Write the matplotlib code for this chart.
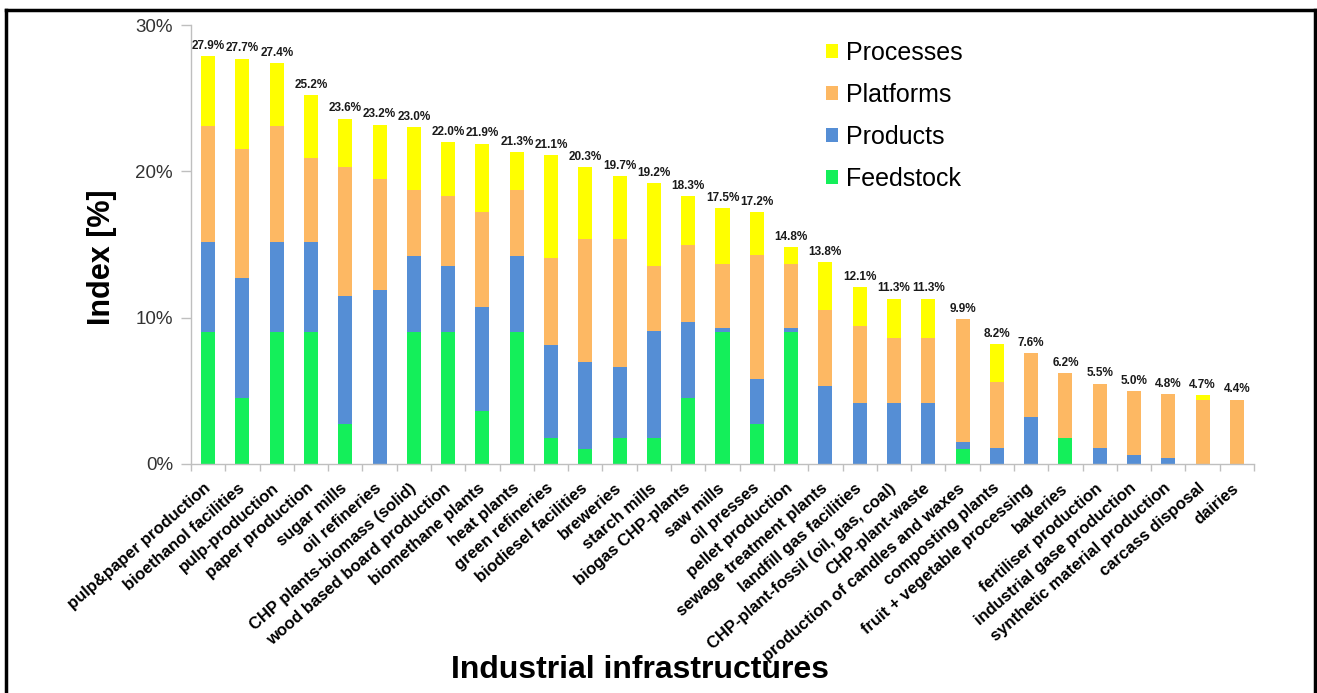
import matplotlib
matplotlib.use("Agg")
import matplotlib.pyplot as plt
from matplotlib.patches import Patch
from matplotlib.lines import Line2D
from matplotlib.ticker import PercentFormatter, FixedLocator
import numpy as np

plt.rcParams['font.family'] = ['Liberation Sans', 'DejaVu Sans']

categories = [
    "pulp&paper production", "bioethanol facilities", "pulp-production", "paper production",
    "sugar mills", "oil refineries", "CHP plants-biomass (solid)", "wood based board production",
    "biomethane plants", "heat plants", "green refineries", "biodiesel facilities", "breweries",
    "starch mills", "biogas CHP-plants", "saw mills", "oil presses", "pellet production",
    "sewage treatment plants", "landfill gas facilities", "CHP-plant-fossil (oil, gas, coal)",
    "CHP-plant-waste", "production of candles and waxes", "composting plants",
    "fruit + vegetable processing", "bakeries", "fertiliser production",
    "industrial gase production", "synthetic material production", "carcass disposal", "dairies",
]
feedstock = [9.0, 4.5, 9.0, 9.0, 2.7, 0.0, 9.0, 9.0, 3.6, 9.0, 1.8, 1.0, 1.8, 1.8, 4.5, 9.0,
             2.7, 9.0, 0.0, 0.0, 0.0, 0.0, 1.0, 0.0, 0.0, 1.8, 0.0, 0.0, 0.0, 0.0, 0.0]
products = [6.2, 8.2, 6.2, 6.2, 8.8, 11.9, 5.2, 4.5, 7.1, 5.2, 6.3, 6.0, 4.8, 7.3, 5.2, 0.3,
            3.1, 0.3, 5.3, 4.2, 4.2, 4.2, 0.5, 1.1, 3.2, 0.0, 1.1, 0.6, 0.4, 0.0, 0.0]
platforms = [7.9, 8.8, 7.9, 5.7, 8.8, 7.6, 4.5, 4.8, 6.5, 4.5, 6.0, 8.4, 8.8, 4.4, 5.3, 4.4,
             8.5, 4.4, 5.2, 5.2, 4.4, 4.4, 8.4, 4.5, 4.4, 4.4, 4.4, 4.4, 4.4, 4.4, 4.4]
processes = [4.8, 6.2, 4.3, 4.3, 3.3, 3.7, 4.3, 3.7, 4.7, 2.6, 7.0, 4.9, 4.3, 5.7, 3.3, 3.8,
             2.9, 1.1, 3.3, 2.7, 2.7, 2.7, 0.0, 2.6, 0.0, 0.0, 0.0, 0.0, 0.0, 0.3, 0.0]
total_labels = ["27.9%", "27.7%", "27.4%", "25.2%", "23.6%", "23.2%", "23.0%", "22.0%", "21.9%",
                "21.3%", "21.1%", "20.3%", "19.7%", "19.2%", "18.3%", "17.5%", "17.2%", "14.8%",
                "13.8%", "12.1%", "11.3%", "11.3%", "9.9%", "8.2%", "7.6%", "6.2%", "5.5%",
                "5.0%", "4.8%", "4.7%", "4.4%"]

series_names = ["Feedstock", "Products", "Platforms", "Processes"]
colors = {"Feedstock": "#14EF5A", "Products": "#558ED5", "Platforms": "#FDB863", "Processes": "#FFFF00"}
series = {"Feedstock": feedstock, "Products": products, "Platforms": platforms, "Processes": processes}

fig = plt.figure(figsize=(13.17, 6.93), dpi=100)
ax = fig.add_axes([191 / 1317, 1 - 464 / 693, (1254 - 191) / 1317, (464 - 25) / 693])

x = np.arange(len(categories))
bottom = np.zeros(len(categories))
width = 0.41
for name in series_names:
    vals = np.array(series[name])
    ax.bar(x, vals, width, bottom=bottom, color=colors[name], linewidth=0, zorder=2)
    bottom += vals

for xi, top, lab in zip(x, bottom, total_labels):
    ax.annotate(lab, (xi, top), xytext=(0, 3), textcoords="offset points",
                ha="center", va="bottom", fontsize=8.5, fontweight="bold", color="#1a1a1a")

ax.set_xlim(-0.5, len(categories) - 0.5)
ax.set_ylim(0, 30)
ax.set_yticks([0, 10, 20, 30])
ax.yaxis.set_major_formatter(PercentFormatter(decimals=0))
ax.tick_params(axis="y", labelsize=13.5, labelcolor="#333333", color="#BFBFBF",
               length=7, width=1, pad=6, direction="out")

ax.set_xticks(x)
ax.set_xticklabels(categories, rotation=41, ha="right", va="center", rotation_mode="anchor",
                   fontsize=12, fontweight="bold")
ax.tick_params(axis="x", which="major", length=0, pad=16)
ax.xaxis.set_minor_locator(FixedLocator(np.arange(-0.5, len(categories), 1.0)))
ax.tick_params(axis="x", which="minor", length=5, color="#BFBFBF", width=1, direction="out")

for s in ["top", "right"]:
    ax.spines[s].set_visible(False)
for s in ["left", "bottom"]:
    ax.spines[s].set_color("#BFBFBF")
    ax.spines[s].set_linewidth(1)

ax.set_ylabel("Index [%]", fontsize=22, fontweight="bold")
ax.yaxis.set_label_coords(-0.07, 0.47)
ax.set_xlabel("Industrial infrastructures", fontsize=23, fontweight="bold")
ax.xaxis.set_label_coords(0.422, -0.435)

handles = [Patch(facecolor=colors[n], edgecolor="none", label=n) for n in reversed(series_names)]
ax.legend(handles=handles, loc="upper left", bbox_to_anchor=(826 / 1317, 1 - 41 / 693),
          bbox_transform=fig.transFigure, frameon=False, fontsize=18,
          handlelength=0.48, handleheight=0.45, handletextpad=0.3, labelspacing=0.72,
          borderaxespad=0, borderpad=0)

# outer frame
lw = 2.5
fig.add_artist(Line2D([6 / 1317, 6 / 1317], [0, 1 - 10 / 693], transform=fig.transFigure,
                      color="black", linewidth=lw))
fig.add_artist(Line2D([6 / 1317, 1315 / 1317], [1 - 10 / 693, 1 - 10 / 693],
                      transform=fig.transFigure, color="black", linewidth=lw))
fig.add_artist(Line2D([1315 / 1317, 1315 / 1317], [0, 1 - 10 / 693], transform=fig.transFigure,
                      color="black", linewidth=lw))

fig.savefig("out.png", dpi=100)
